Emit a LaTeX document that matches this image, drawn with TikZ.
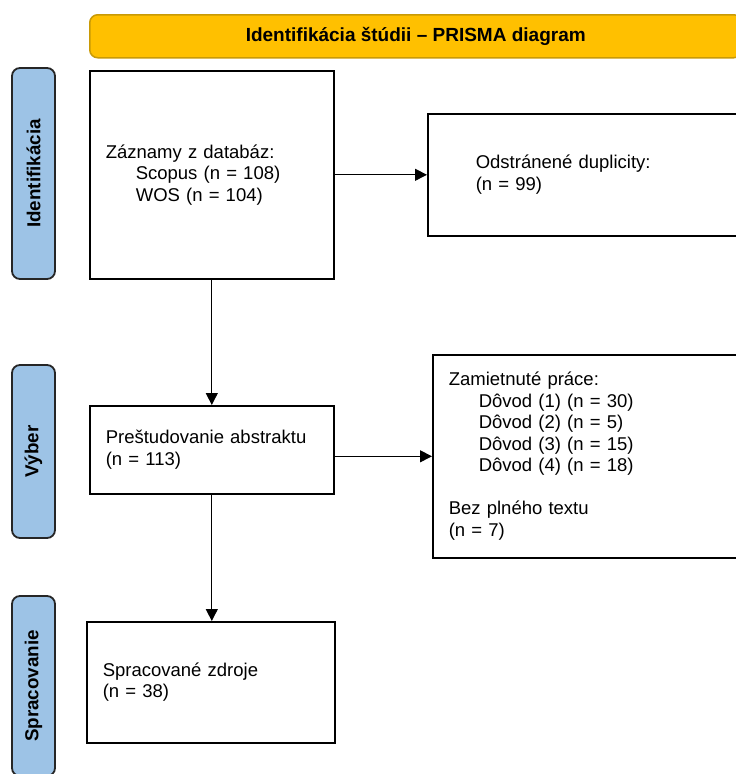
\documentclass[tikz,border=0pt]{standalone}
\usepackage{fontspec}
\setmainfont{Liberation Sans}
\usepackage{tikz}
\usetikzlibrary{arrows.meta,positioning}
\definecolor{sideblue}{HTML}{9DC3E6}
\definecolor{titlegold}{HTML}{FFC000}
\definecolor{titleedge}{HTML}{C99A06}
\def\indentsep{\hspace*{30pt}}

\begin{document}
\begin{tikzpicture}[x=1pt,y=-1pt,font=\fontsize{18.5}{21.5}\selectfont]
\tikzstyle{stage}=[rectangle,rounded corners=8pt,draw=black!85,line width=1.8pt,fill=sideblue,
  rotate=90,minimum height=43pt,inner sep=0pt,font=\fontsize{18.8}{21.5}\selectfont\bfseries]
\tikzstyle{record}=[rectangle,draw=black,line width=1.6pt,anchor=north west,align=left,inner ysep=0pt]
\tikzstyle{flow}=[line width=0.9pt,-{Triangle[length=12pt,width=12pt]}]

\useasboundingbox (0,0) rectangle (736,774);
\clip (0,0) rectangle (736,774);

% Title bar
\node[rectangle,rounded corners=8pt,draw=titleedge,line width=1.5pt,fill=titlegold,
  anchor=north west,minimum width=652pt,minimum height=43pt,font=\fontsize{19}{21.5}\selectfont\bfseries]
  (title) at (89,14) {Identifikácia štúdii -- PRISMA diagram};

% Stages on the left
\node[stage,minimum width=211pt] (S-1) at (33.5,173.5) {Identifikácia};
\node[stage,minimum width=173pt] (S-2) at (33.5,451.5) {Výber};
\node[stage,minimum width=180pt] (S-3) at (33.5,686) {Spracovanie};

% Main column
\node[record,minimum width=244pt,minimum height=208pt,inner xsep=16pt,text width=212pt]
  (records) at (89,70) {Záznamy z databáz:\\\indentsep Scopus (n = 108)\\\indentsep WOS (n = 104)};
\node[record,minimum width=244pt,minimum height=88pt,inner xsep=16pt,text width=212pt]
  (abstracts) at (89,405) {Preštudovanie abstraktu\\(n = 113)};
\node[record,minimum width=248pt,minimum height=121pt,inner xsep=16pt,text width=216pt]
  (included) at (86,621) {Spracované zdroje\\(n = 38)};

% Right column
\node[record,minimum width=320pt,minimum height=122pt,inner xsep=48pt,text width=224pt]
  (duplicates) at (427,113) {Odstránené duplicity:\\(n = 99)};
\node[record,minimum width=320pt,minimum height=203pt,inner xsep=16pt,text width=288pt]
  (excluded) at (432,354) {Zamietnuté práce:\\\indentsep Dôvod (1) (n = 30)\\\indentsep Dôvod (2) (n = 5)\\
  \indentsep Dôvod (3) (n = 15)\\\indentsep Dôvod (4) (n = 18)\\[21.5pt]Bez plného textu\\(n = 7)};

% Connectors
\draw[flow] (records) -- (duplicates);
\draw[flow] (records) -- (abstracts);
\draw[flow] (abstracts.east |- excluded.west) -- (excluded.west);
\draw[flow] (abstracts.south) -- (abstracts.south |- included.north);
\end{tikzpicture}
\end{document}
